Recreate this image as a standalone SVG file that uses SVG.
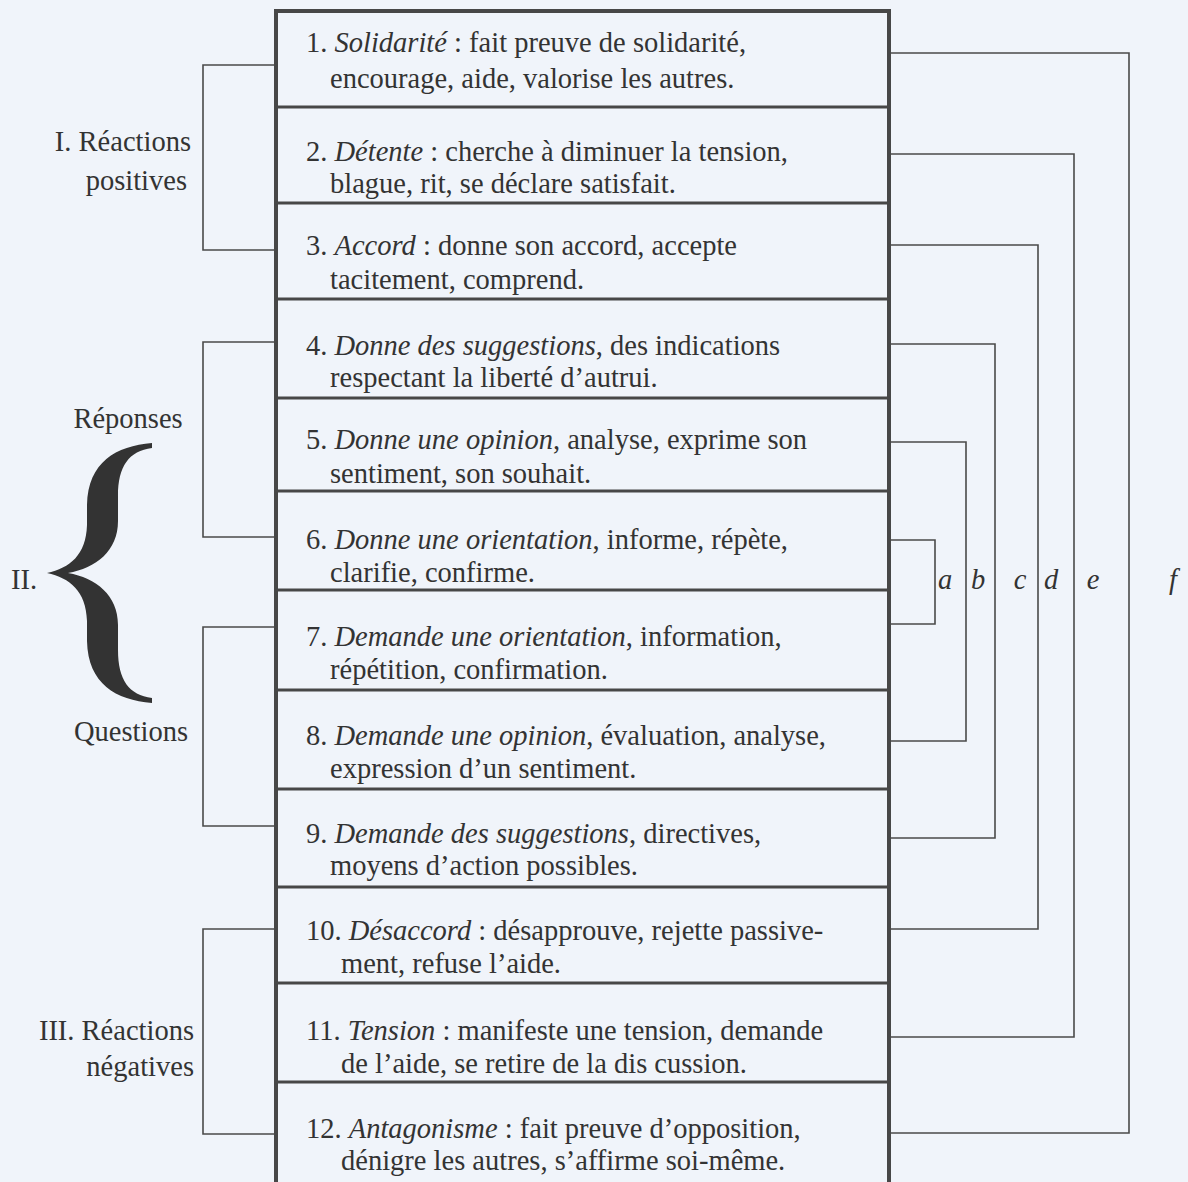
<svg xmlns="http://www.w3.org/2000/svg" width="1188" height="1182" viewBox="0 0 1188 1182">
  <style>
    .bg { fill: #f0f4fa; }
    .box { fill: none; stroke: #474747; stroke-width: 4; }
    .div { stroke: #474747; stroke-width: 3; }
    .link { fill: none; stroke: #4a4a4a; stroke-width: 1.6; }
    .t { font-family: "Liberation Serif", "DejaVu Serif", serif; font-size: 28.5px; fill: #333; }
    .lab { font-family: "Liberation Serif", "DejaVu Serif", serif; font-size: 28.5px; fill: #333; }
    .ital { font-style: italic; }
  </style>
  <rect class="bg" x="0" y="0" width="1188" height="1182"/>

  <!-- category table -->
  <g id="table">
    <rect class="box" x="276" y="11" width="613" height="1190"/>
    <line class="div" x1="276" y1="107" x2="889" y2="107"/>
    <line class="div" x1="276" y1="203" x2="889" y2="203"/>
    <line class="div" x1="276" y1="299" x2="889" y2="299"/>
    <line class="div" x1="276" y1="398" x2="889" y2="398"/>
    <line class="div" x1="276" y1="491" x2="889" y2="491"/>
    <line class="div" x1="276" y1="590" x2="889" y2="590"/>
    <line class="div" x1="276" y1="690" x2="889" y2="690"/>
    <line class="div" x1="276" y1="789" x2="889" y2="789"/>
    <line class="div" x1="276" y1="887" x2="889" y2="887"/>
    <line class="div" x1="276" y1="983" x2="889" y2="983"/>
    <line class="div" x1="276" y1="1082" x2="889" y2="1082"/>
  </g>

  <g id="cat1"><text class="t" x="306" y="52">1. <tspan class="ital">Solidarité</tspan> : fait preuve de solidarité,</text><text class="t" x="330" y="88">encourage, aide, valorise les autres.</text></g>
  <g id="cat2"><text class="t" x="306" y="161">2. <tspan class="ital">Détente</tspan> : cherche à diminuer la tension,</text><text class="t" x="330" y="193">blague, rit, se déclare satisfait.</text></g>
  <g id="cat3"><text class="t" x="306" y="255">3. <tspan class="ital">Accord</tspan> : donne son accord, accepte</text><text class="t" x="330" y="289">tacitement, comprend.</text></g>
  <g id="cat4"><text class="t" x="306" y="355">4. <tspan class="ital">Donne des suggestions</tspan>, des indications</text><text class="t" x="330" y="387">respectant la liberté d’autrui.</text></g>
  <g id="cat5"><text class="t" x="306" y="449">5. <tspan class="ital">Donne une opinion</tspan>, analyse, exprime son</text><text class="t" x="330" y="483">sentiment, son souhait.</text></g>
  <g id="cat6"><text class="t" x="306" y="549">6. <tspan class="ital">Donne une orientation</tspan>, informe, répète,</text><text class="t" x="330" y="582">clarifie, confirme.</text></g>
  <g id="cat7"><text class="t" x="306" y="646">7. <tspan class="ital">Demande une orientation</tspan>, information,</text><text class="t" x="330" y="679">répétition, confirmation.</text></g>
  <g id="cat8"><text class="t" x="306" y="745">8. <tspan class="ital">Demande une opinion</tspan>, évaluation, analyse,</text><text class="t" x="330" y="778">expression d’un sentiment.</text></g>
  <g id="cat9"><text class="t" x="306" y="843">9. <tspan class="ital">Demande des suggestions</tspan>, directives,</text><text class="t" x="330" y="875">moyens d’action possibles.</text></g>
  <g id="cat10"><text class="t" x="306" y="940">10. <tspan class="ital">Désaccord</tspan> : désapprouve, rejette passive-</text><text class="t" x="341" y="973">ment, refuse l’aide.</text></g>
  <g id="cat11"><text class="t" x="306" y="1040">11. <tspan class="ital">Tension</tspan> : manifeste une tension, demande</text><text class="t" x="341" y="1073">de l’aide, se retire de la dis cussion.</text></g>
  <g id="cat12"><text class="t" x="306" y="1138">12. <tspan class="ital">Antagonisme</tspan> : fait preuve d’opposition,</text><text class="t" x="341" y="1170">dénigre les autres, s’affirme soi-même.</text></g>

  <!-- group labels on the left -->
  <g id="group-I">
    <text class="lab" x="191" y="151" text-anchor="end">I. Réactions</text>
    <text class="lab" x="187" y="190" text-anchor="end">positives</text>
  </g>
  <g id="group-II">
    <text class="lab" x="128" y="428" text-anchor="middle">Réponses</text>
    <text class="lab" x="131" y="741" text-anchor="middle">Questions</text>
    <text class="lab" x="11" y="589">II.</text>
    <path fill="#333" d="M152,443 C116,446 88,462 87,505 L87,525 C86,555 70,568 47,573 C70,578 86,591 87,621 L87,641 C88,684 116,700 152,703 L152,698 C129,695 118,680 118,650 L118,625 C118,595 96,578 68,573 C96,568 118,551 118,521 L118,496 C118,466 129,451 152,448 Z"/>
  </g>
  <g id="group-III">
    <text class="lab" x="194" y="1040" text-anchor="end">III. Réactions</text>
    <text class="lab" x="194" y="1076" text-anchor="end">négatives</text>
  </g>

  <!-- right-hand pair labels -->
  <g id="pair-labels">
    <text class="lab ital" x="945" y="589" text-anchor="middle">a</text>
    <text class="lab ital" x="978" y="589" text-anchor="middle">b</text>
    <text class="lab ital" x="1020" y="589" text-anchor="middle">c</text>
    <text class="lab ital" x="1051" y="589" text-anchor="middle">d</text>
    <text class="lab ital" x="1093" y="589" text-anchor="middle">e</text>
    <text class="lab ital" x="1173" y="589" text-anchor="middle">f</text>
  </g>

  <!-- brackets -->
  <g id="connectors">
    <polyline class="link" points="276,65 203,65 203,250 276,250"/>
    <polyline class="link" points="276,342 203,342 203,537 276,537"/>
    <polyline class="link" points="276,627 203,627 203,826 276,826"/>
    <polyline class="link" points="276,929 203,929 203,1134 276,1134"/>

    <polyline class="link" points="891,540 935,540 935,624 891,624"/>
    <polyline class="link" points="891,442 966,442 966,741 891,741"/>
    <polyline class="link" points="891,344 995,344 995,838 891,838"/>
    <polyline class="link" points="891,245 1038,245 1038,929 891,929"/>
    <polyline class="link" points="891,154 1074,154 1074,1037 891,1037"/>
    <polyline class="link" points="891,53 1129,53 1129,1133 891,1133"/>
  </g>
</svg>
